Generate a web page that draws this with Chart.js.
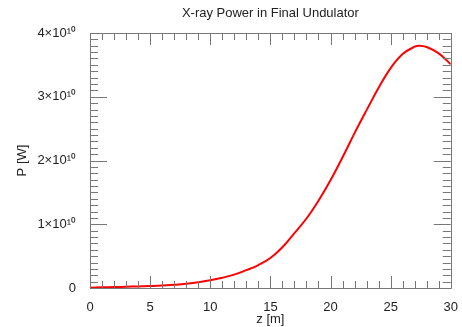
<!DOCTYPE html>
<html>
<head>
<meta charset="utf-8">
<script src="https://cdn.jsdelivr.net/npm/chart.js@4.4.1/dist/chart.umd.min.js"></script>
<style>
  html, body { margin: 0; padding: 0; background: #fff; }
  #wrap { width: 462px; height: 327px; }
</style>
</head>
<body>
<div id="wrap"><canvas id="c" width="462" height="327"></canvas></div>
<script>
// z positions [m]
const zValues = [0,1,2,3,4,5,6,7,8,9,10,11,12,13,14,15,16,17,18,19,20,21,22,23,24,25,26,27,27.4,28,29,30];
// X-ray power [W]
const powerValues = [0.005e10,0.01e10,0.015e10,0.02e10,0.025e10,0.03e10,0.04e10,0.05e10,0.065e10,0.09e10,
  0.12e10,0.16e10,0.21e10,0.28e10,0.36e10,0.47e10,0.64e10,0.86e10,1.09e10,1.37e10,
  1.69e10,2.05e10,2.43e10,2.79e10,3.14e10,3.45e10,3.67e10,3.785e10,3.80e10,3.78e10,3.68e10,3.51e10];
const xTicks = [0,5,10,15,20,25,30];
const yTicks = [0,1e10,2e10,3e10,4e10];
const xMinorStep = 1;
const yMinorStep = 1e9;

const FONT = 'Liberation Sans, Arial, Helvetica, sans-serif';
const AXIS = '#777777';

const framePlugin = {
  id: 'frame',
  afterDraw(chart) {
    const ctx = chart.ctx;
    const a = chart.chartArea;
    const xs = chart.scales.x, ys = chart.scales.y;
    ctx.save();
    ctx.strokeStyle = AXIS;
    ctx.lineWidth = 1;
    ctx.beginPath();
    ctx.rect(Math.round(a.left) + 0.5, Math.round(a.top) + 0.5,
             Math.round(a.right - a.left), Math.round(a.bottom - a.top));
    ctx.stroke();
    ctx.beginPath();
    for (let v = xs.min; v <= xs.max + 1e-9; v += xMinorStep) {
      const px = Math.round(xs.getPixelForValue(v)) + 0.5;
      const major = xTicks.includes(Math.round(v));
      const len = major ? 12 : 7;
      ctx.moveTo(px, a.bottom); ctx.lineTo(px, a.bottom - len);
      ctx.moveTo(px, a.top); ctx.lineTo(px, a.top + len);
    }
    for (let v = ys.min; v <= ys.max + 1; v += yMinorStep) {
      const py = Math.round(ys.getPixelForValue(v)) + 0.5;
      const major = yTicks.some(t => Math.abs(t - v) < 1);
      const len = major ? 17 : 8;
      ctx.moveTo(a.left, py); ctx.lineTo(a.left + len, py);
      ctx.moveTo(a.right, py); ctx.lineTo(a.right - len, py);
    }
    ctx.stroke();
    ctx.restore();
  }
};

new Chart(document.getElementById('c'), {
  type: 'line',
  data: {
    datasets: [{
      data: zValues.map((z, i) => ({ x: z, y: powerValues[i] })),
      borderColor: '#ff0000',
      borderWidth: 2,
      pointRadius: 0,
      tension: 0.4,
      fill: false
    }]
  },
  options: {
    responsive: false,
    animation: false,
    layout: { padding: { left: 0, right: 8, top: 0, bottom: 0 } },
    plugins: {
      legend: { display: false },
      tooltip: { enabled: false },
      title: { display: false }
    },
    scales: {
      x: {
        type: 'linear',
        min: 0, max: 30,
        grid: { display: false },
        border: { display: false },
        ticks: {
          stepSize: 5,
          color: '#222',
          padding: 4,
          maxRotation: 0,
          font: { family: FONT, size: 13 }
        },
        title: {
          display: true,
          text: 'z [m]',
          color: '#222',
          font: { family: FONT, size: 13 },
          padding: { top: 0, bottom: 0 }
        },
        afterFit(s) { s.height = 39; }
      },
      top: {
        type: 'linear',
        position: 'top',
        min: 0, max: 30,
        grid: { display: false },
        border: { display: false },
        ticks: { display: false },
        title: {
          display: true,
          text: 'X-ray Power in Final Undulator',
          color: '#222',
          font: { family: FONT, size: 13 },
          padding: { top: 6, bottom: 0 }
        },
        afterFit(s) { s.height = 33; }
      },
      y: {
        type: 'linear',
        min: 0, max: 4e10,
        grid: { display: false },
        border: { display: false },
        ticks: {
          stepSize: 1e10,
          color: '#222',
          padding: 6,
          font: { family: FONT, size: 13 },
          callback: v => v === 0 ? '0' : (v / 1e10) + '×10¹⁰'
        },
        title: {
          display: true,
          text: 'P [W]',
          color: '#222',
          font: { family: FONT, size: 13 },
          padding: { top: 15, bottom: 0 }
        },
        afterFit(s) { s.width = 90; }
      }
    }
  },
  plugins: [framePlugin]
});
</script>
</body>
</html>
